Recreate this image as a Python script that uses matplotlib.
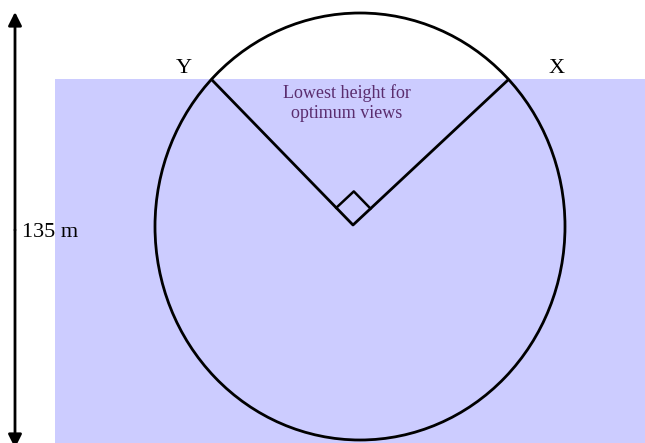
import numpy as np
import matplotlib.pyplot as plt
from matplotlib.patches import Rectangle, Ellipse

# diagram values (pixel space of the picture)
water_box = [55, 79, 590, 364]          # x, y, width, height
circle_centre = [360, 226.5]
circle_size = [410, 427]                # width, height
apex = [353, 225]
point_y = [212, 80]
point_x = [508, 80]
labels = ["Y", "X"]
label_pos = [[184, 68], [557, 68]]
note = "Lowest height for\noptimum views"
height_label = "135 m"
arrow_x = 15
arrow_ends = [12, 448]

fig = plt.figure(figsize=(6.45, 4.43), dpi=100)
ax = fig.add_axes([0, 0, 1, 1])
ax.set_xlim(0, 645)
ax.set_ylim(443, 0)
ax.axis("off")

ax.add_patch(Rectangle(water_box[:2], water_box[2], water_box[3],
                       facecolor="#ccccff", edgecolor="none"))
ax.add_patch(Ellipse(circle_centre, circle_size[0], circle_size[1],
                     facecolor="none", edgecolor="black", lw=2.0))

# the V from the apex to X and Y
ax.plot([point_y[0], apex[0], point_x[0]],
        [point_y[1], apex[1], point_x[1]], color="black", lw=2.0)

# right angle marker
c = np.array(apex, float)
u1 = np.array(point_y, float) - c
u1 = u1 / np.linalg.norm(u1)
u2 = np.array(point_x, float) - c
u2 = u2 / np.linalg.norm(u2)
s = 24
sq = np.array([c + s * u1, c + s * (u1 + u2), c + s * u2])
ax.plot(sq[:, 0], sq[:, 1], color="black", lw=1.8)

serif = ["Liberation Serif", "DejaVu Serif"]
for lab, pos in zip(labels, label_pos):
    ax.text(pos[0], pos[1], lab, ha="center", va="center", fontsize=16,
            family=serif)
ax.text(347, 103, note, ha="center", va="center", fontsize=13,
        color="#5a2d6e", family=serif, linespacing=1.2)
ax.text(22, 232, height_label, ha="left", va="center", fontsize=16,
        family=serif)

# double-headed height arrow
for tip in arrow_ends:
    ax.annotate("", xy=(arrow_x, tip), xytext=(arrow_x, 230),
                annotation_clip=False,
                arrowprops=dict(arrowstyle="-|>", color="black", lw=2.0,
                                mutation_scale=20, shrinkA=0, shrinkB=0))

fig.savefig("out.png", dpi=100)
